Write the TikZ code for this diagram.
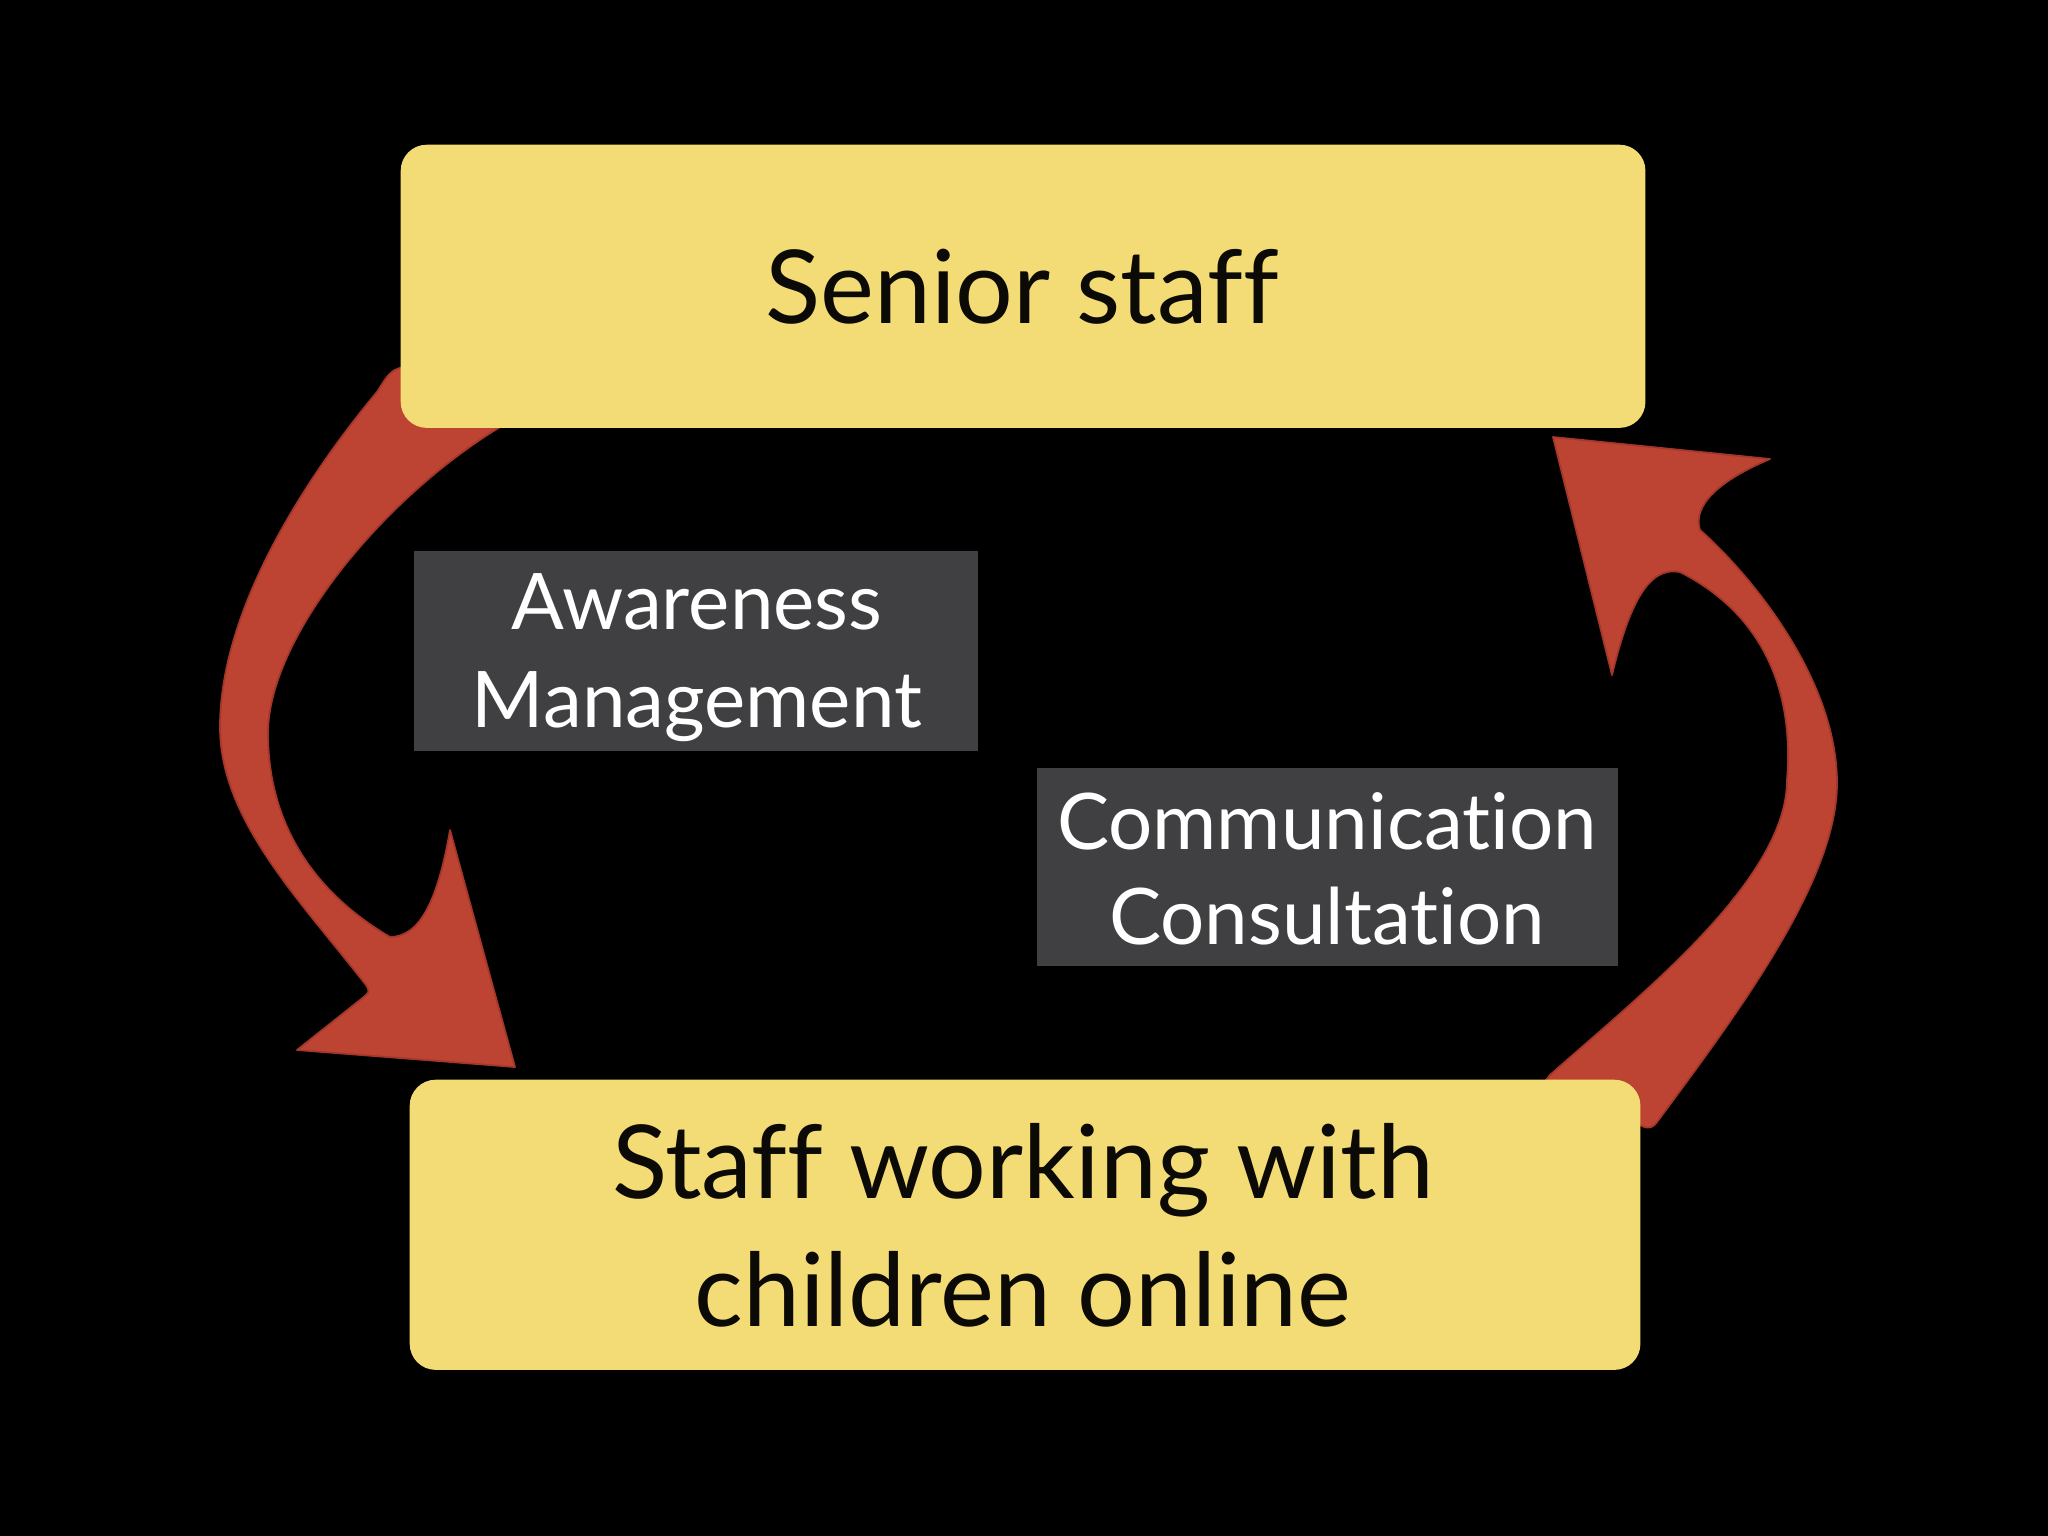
\documentclass[tikz,border=0pt]{standalone}
\usepackage{fontspec}
\setmainfont{Lato}[Ligatures=NoCommon]
\definecolor{boxyellow}{RGB}{243,220,118}
\definecolor{arrowred}{RGB}{189,67,51}
\definecolor{arrowedge}{RGB}{165,55,42}
\definecolor{labelgrey}{RGB}{64,63,66}
\definecolor{inkblack}{RGB}{12,10,6}
\tikzset{
  ybox/.style={fill=boxyellow, rounded corners=0.26cm, inner sep=0pt, anchor=north west},
  gbox/.style={fill=labelgrey, inner sep=0pt, anchor=north west},
  bigtext/.style={anchor=base, inner sep=0pt, text=inkblack, font=\fontsize{29}{36}\selectfont},
  labeltext/.style={anchor=base, inner sep=0pt, text=white, font=\fontsize{22.2}{28}\selectfont},
  redshape/.style={fill=arrowred, draw=arrowedge, line width=0.5pt, line join=round}
}
\begin{document}
\begin{tikzpicture}[x=0.01cm, y=-0.01cm]
\fill[black] (0,0) rectangle (2048,1536);
\useasboundingbox (0,0) rectangle (2048,1536);

% left arrow (Senior staff -> Staff working with children online)
\path[redshape] (377,392)
  .. controls (320,460) and (220,600) .. (220,727)
  .. controls (220,820) and (300,900) .. (366,985)
  .. controls (370,992) .. (360,1000)
  -- (297,1050) -- (515,1067) -- (450,830)
  .. controls (438,900) and (420,937) .. (390,937)
  .. controls (310,890) and (268,820) .. (268,733)
  .. controls (268,640) and (380,500) .. (500,427)
  -- (520,410) -- (420,365)
  .. controls (392,368) .. cycle;

% right arrow (Staff working with children online -> Senior staff)
\path[redshape] (1553,437) -- (1770,459)
  .. controls (1720,480) and (1692,505) .. (1700,530)
  .. controls (1752,576) and (1837,680) .. (1837,783)
  .. controls (1837,880) and (1740,1010) .. (1657,1122)
  .. controls (1650,1132) and (1640,1128) .. (1630,1115)
  -- (1540,1088) -- (1550,1075)
  .. controls (1640,995) and (1787,880) .. (1787,780)
  .. controls (1795,680) and (1755,610) .. (1680,572)
  .. controls (1650,566) and (1630,600) .. (1612,675)
  -- cycle;

% yellow boxes
\node[ybox, minimum width=12.44cm, minimum height=2.83cm] (senior) at (400,144) {};
\node[ybox, minimum width=12.30cm, minimum height=2.90cm] (staff) at (409,1079) {};

% grey label boxes
\node[gbox, minimum width=5.64cm, minimum height=2.00cm] (aware) at (413,550) {};
\node[gbox, minimum width=5.81cm, minimum height=1.98cm] (comm) at (1036,767) {};

% texts
\node[bigtext] (seniortext) at (1022,323) {Senior staff};
\node[bigtext] (stafftext1) at (1023,1198) {Staff working with};
\node[bigtext] (stafftext2) at (1023,1326) {children online};

\node[labeltext] (awaretext1) at (697,629) {Awareness};
\node[labeltext] (awaretext2) at (697,727) {Management};

\node[labeltext] (commtext1) at (1327,849) {Communication};
\node[labeltext] (commtext2) at (1327,944) {Consultation};
\end{tikzpicture}
\end{document}
